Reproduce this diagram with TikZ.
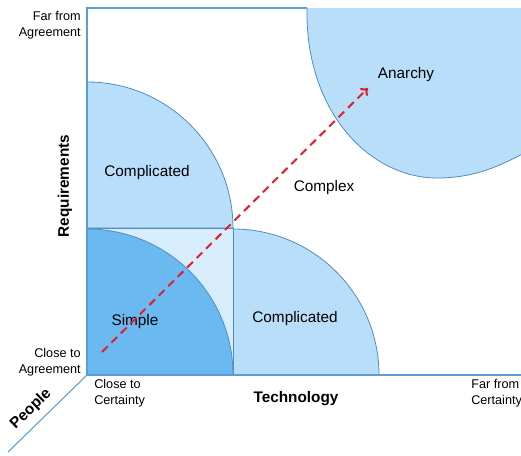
\documentclass[tikz,border=0pt]{standalone}
\usepackage{tikz}
\usepackage{xcolor}
\usepackage{fontspec}
\setmainfont{Liberation Sans}
\usetikzlibrary{arrows.meta}
\definecolor{dark}{HTML}{6BB9F1}
\definecolor{mid}{HTML}{B9DEFA}
\definecolor{pale}{HTML}{D8EDFC}
\definecolor{edge}{HTML}{4F8EC2}
\definecolor{axis}{HTML}{5E9DD3}
\definecolor{arr}{HTML}{E0202E}
\tikzset{
  lbl/.style={inner sep=0pt,font=\fontsize{11.5}{13}\selectfont},
  small/.style={inner sep=0pt,font=\fontsize{9.5}{12}\selectfont},
  bold/.style={inner sep=0pt,font=\fontsize{11.5}{13}\selectfont\bfseries},
  region/.style={fill=mid,draw=edge,line width=0.6pt}
}

\begin{document}
\begin{tikzpicture}[x=0.75pt,y=-0.75pt]
        \useasboundingbox (0,0) rectangle (521,456);
        \fill[mid] (307,8) .. controls (305,112) and (370,178) .. (437,178) .. controls (475,178) and (500,166) .. (530,150) -- (530,8) -- cycle;
        \draw[edge,line width=0.6pt] (307,8) .. controls (305,112) and (370,178) .. (437,178) .. controls (475,178) and (500,166) .. (530,150);
        \draw[region] (87,228) -- (233,228) arc[start angle=0,end angle=-90,radius=146] -- cycle;
        \draw[region] (233,375) -- (379,375) arc[start angle=0,end angle=-90,radius=146] -- cycle;
        \draw[fill=pale,draw=edge,line width=0.6pt] (87,228) rectangle (233,375);
        \draw[fill=dark,draw=edge,line width=0.6pt] (87,375) -- (233,375) arc[start angle=0,end angle=-90,radius=146] -- cycle;
        \coordinate(o) at (87,375);
        \coordinate(top) at (87,8);
        \coordinate(topr) at (307,8);
        \coordinate(right) at (530,375);
        \coordinate(depth) at (8,452);
        \draw[axis,line width=1pt] (topr)--(top)--(o)--(right);
        \draw[axis,line width=0.8pt] (o)--(depth);
        \node[lbl](comp1) at (147,173) {Complicated};
        \node[lbl](comp2) at (295,319) {Complicated};
        \node[lbl](simple) at (135,322) {Simple};
        \node[lbl](complex) at (324,188) {Complex};
        \node[lbl](anarchy) at (406,75) {Anarchy};
        \node[small,anchor=east,align=right](farA) at (81,25) {Far from\\Agreement};
        \node[small,anchor=east,align=right](closeA) at (81,362) {Close to\\Agreement};
        \node[small,anchor=west,align=left](closeC) at (94,393) {Close to\\Certainty};
        \node[small,anchor=west,align=left](farC) at (471,393) {Far from\\Certainty};
        \node[bold,rotate=90](req) at (65,186) {Requirements};
        \node[bold](tech) at (296,399) {Technology};
        \node[bold,rotate=44](people) at (31,409) {People};
        \coordinate(s) at (102,352);
        \coordinate(t) at (368,88);
        \draw[arr,line width=1.5pt,dash pattern=on 6pt off 4pt,-{To[length=5pt,width=8pt]}] (s)--(t);
        \end{tikzpicture}
\end{document}
